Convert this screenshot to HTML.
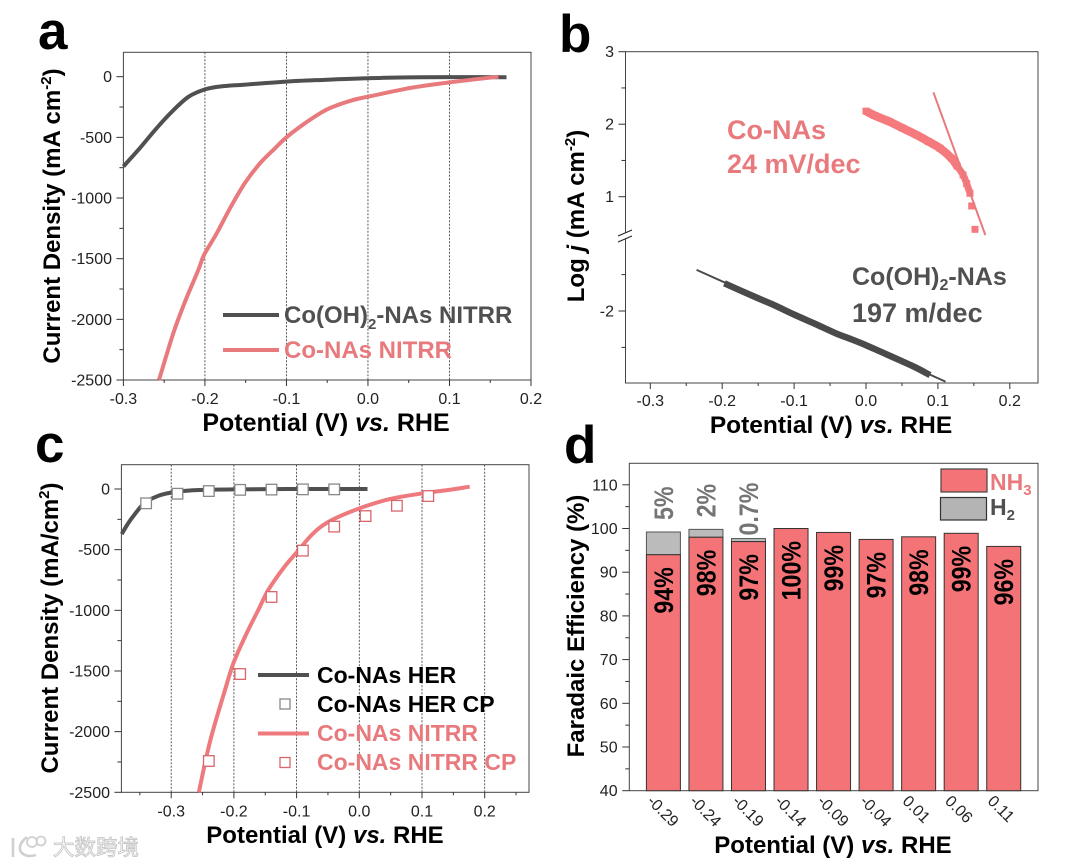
<!DOCTYPE html>
<html lang="en">
<head>
<meta charset="utf-8">
<title>Electrocatalysis figure panels a-d</title>
<style>
html,body{margin:0;padding:0;background:#fff;}
#figure{display:block;width:1080px;height:866px;filter:blur(0.35px);font-family:"Liberation Sans","Noto Sans CJK SC",sans-serif;}
text{font-family:"Liberation Sans","Noto Sans CJK SC",sans-serif;}
.letter{font-size:53px;font-weight:700;fill:#000;}
.title{font-weight:700;fill:#000;}
.grey{fill:#505050;font-weight:700;}
.red{fill:#e87a7d;font-weight:700;}
.blk{fill:#000;font-weight:700;}
.tick{font-size:16px;fill:#222;}
</style>
</head>
<body>
<svg id="figure" xmlns="http://www.w3.org/2000/svg" width="1080" height="866" viewBox="0 0 1080 866">
  <text class="letter" x="38" y="49">a</text>
  <text class="letter" x="559" y="52">b</text>
  <text class="letter" x="35" y="462">c</text>
  <text class="letter" x="564" y="463">d</text>

  <g id="panel-a"></g>
  <g id="panel-b"></g>
  <g id="panel-c"></g>
  <g id="panel-d"></g>

  <!-- panel a text -->
  <text class="title" font-size="25" x="326" y="431" text-anchor="middle">Potential (V) <tspan font-style="italic">vs.</tspan> RHE</text>
  <text class="title" font-size="24" transform="translate(60,216) rotate(-90)" text-anchor="middle">Current Density (mA cm<tspan font-size="15" dy="-9">-2</tspan><tspan dy="9">)</tspan></text>
  <line x1="223" y1="315" x2="279" y2="315" stroke="#505050" stroke-width="4"/>
  <line x1="223" y1="350" x2="279" y2="350" stroke="#e87a7d" stroke-width="4"/>
  <text class="grey" font-size="24" x="284" y="323">Co(OH)<tspan font-size="15" dy="6">2</tspan><tspan dy="-6">-NAs NITRR</tspan></text>
  <text class="red" font-size="24" x="284" y="358">Co-NAs NITRR</text>

  <!-- panel b text -->
  <text class="title" font-size="24.5" x="831" y="433" text-anchor="middle">Potential (V) <tspan font-style="italic">vs.</tspan> RHE</text>
  <text class="title" font-size="24" transform="translate(584,216) rotate(-90)" text-anchor="middle">Log <tspan font-style="italic">j</tspan> (mA cm<tspan font-size="15" dy="-9">-2</tspan><tspan dy="9">)</tspan></text>
  <text class="red" font-size="27" x="727" y="139">Co-NAs</text>
  <text class="red" font-size="27" x="727" y="173">24 mV/dec</text>
  <text class="grey" font-size="25" x="852" y="285">Co(OH)<tspan font-size="16" dy="5">2</tspan><tspan dy="-5">-NAs</tspan></text>
  <text class="grey" font-size="27" x="852" y="322">197 m/dec</text>

  <!-- panel c text -->
  <text class="title" font-size="24" x="325" y="843" text-anchor="middle">Potential (V) <tspan font-style="italic">vs.</tspan> RHE</text>
  <text class="title" font-size="24" transform="translate(58,628) rotate(-90)" text-anchor="middle">Current Density (mA/cm<tspan font-size="15" dy="-9">2</tspan><tspan dy="9">)</tspan></text>
  <line x1="258" y1="675" x2="309" y2="675" stroke="#505050" stroke-width="4"/>
  <rect x="280" y="699" width="10" height="10" fill="#fff" stroke="#888" stroke-width="1.3"/>
  <line x1="258" y1="733.5" x2="309" y2="733.5" stroke="#ee7a7d" stroke-width="4"/>
  <rect x="280" y="757.5" width="10" height="10" fill="#fff" stroke="#d9666b" stroke-width="1.3"/>
  <text class="blk" font-size="23" x="317" y="683">Co-NAs HER</text>
  <text class="blk" font-size="23" x="317" y="712">Co-NAs HER CP</text>
  <text class="red" font-size="23" x="317" y="741">Co-NAs NITRR</text>
  <text class="red" font-size="23" x="317" y="770">Co-NAs NITRR CP</text>

  <!-- panel d text -->
  <text class="title" font-size="24" x="833" y="853" text-anchor="middle">Potential (V) <tspan font-style="italic">vs.</tspan> RHE</text>
  <text class="title" font-size="24" transform="translate(584,626) rotate(-90)" text-anchor="middle">Faradaic Efficiency (%)</text>
  <rect x="941" y="469" width="46" height="23" fill="#f47376" stroke="#444" stroke-width="1.2"/>
  <rect x="940.500" y="497.500" width="46" height="22.500" fill="#b4b4b4" stroke="#333" stroke-width="1.2"/>
  <text class="red" font-size="23" x="990" y="490">NH<tspan font-size="15" dy="5">3</tspan></text>
  <text class="grey" font-size="23" x="990" y="515">H<tspan font-size="15" dy="5">2</tspan></text>

  <!-- watermark -->
  <g>
    <path d="M13 838 L13 857 M27 837 Q17 845 21 852 Q26 858 36 855" fill="none" stroke="#d0d0d0" stroke-width="2.6"/>
    <circle cx="32" cy="842" r="5" fill="none" stroke="#d0d0d0" stroke-width="1.8"/>
    <circle cx="41" cy="841" r="4.500" fill="none" stroke="#d0d0d0" stroke-width="1.8"/>
    <text x="53" y="855" font-size="21.500" fill="#fff" stroke="#c8c8c8" stroke-width="0.9" style="font-family:'Noto Sans CJK SC',sans-serif">大数跨境</text>
  </g>
</svg>
<script>
/* Panel a data */
const aXLabels = ['-0.3', '-0.2', '-0.1', '0.0', '0.1', '0.2'];
const aXMinor = [-0.25, -0.15, -0.05, 0.05, 0.15];
const aYLabels = ['0', '-500', '-1000', '-1500', '-2000', '-2500'];
const aYMinor = [-250, -750, -1250, -1750, -2250];
const aGrid = [-0.2, -0.1, 0, 0.1];
const aBlackX = [-0.3, -0.28, -0.26, -0.24, -0.22, -0.2, -0.18, -0.15, -0.1, -0.05, 0, 0.05, 0.1, 0.17];
const aBlackY = [-740, -590, -430, -285, -165, -105, -80, -65, -40, -25, -12, -6, -3, -5];
const aRedX = [-0.2563, -0.2388, -0.2244, -0.2081, -0.2011, -0.1855, -0.1692, -0.1508, -0.1324, -0.114, -0.1014, -0.0833, -0.0588, -0.0454, -0.02, 0, 0.035, 0.056, 0.1, 0.16];
const aRedY = [-2500, -2115, -1855, -1593, -1470, -1291, -1085, -875, -714, -590, -508, -412, -302, -255, -195, -165, -115, -88, -47, 0];

/* Panel b data */
const bXLabels = ['-0.3', '-0.2', '-0.1', '0.0', '0.1', '0.2'];
const bXMinor = [-0.25, -0.15, -0.05, 0.05, 0.15];
const bYLabels = ['3', '2', '1', '-2'];
const bYMinor = [2.5, 1.5, -1.5, -2.5];
const bRedX = [0, 0.012, 0.033, 0.05, 0.0705, 0.087, 0.103, 0.119, 0.127, 0.135, 0.14, 0.1446, 0.147, 0.1516];
const bRedY = [2.18, 2.12, 2.034, 1.95, 1.851, 1.76, 1.668, 1.53, 1.42, 1.3, 1.18, 1.047, 0.872, 0.55];
const bRedFitX = [0.0937, 0.166];
const bRedFitY = [2.44, 0.47];
const bBlackX = [-0.197, -0.156, -0.13, -0.0986, -0.07, -0.041, -0.02, 0, 0.025, 0.05, 0.07, 0.089];
const bBlackY = [-1.62, -1.8, -1.91, -2.055, -2.18, -2.31, -2.39, -2.47, -2.58, -2.69, -2.78, -2.88];
const bBlackFitX = [-0.2356, 0.1106];
const bBlackFitY = [-1.436, -2.97];

/* Panel c data */
const cXLabels = ['-0.3', '-0.2', '-0.1', '0.0', '0.1', '0.2'];
const cXMinor = [-0.35, -0.25, -0.15, -0.05, 0.05, 0.15, 0.25];
const cYLabels = ['0', '-500', '-1000', '-1500', '-2000', '-2500'];
const cYMinor = [-250, -750, -1250, -1750, -2250];
const cGrid = [-0.3, -0.2, -0.1, 0, 0.1, 0.2];
const cBlackX = [-0.379, -0.365, -0.343, -0.32, -0.3, -0.265, -0.2, -0.1, 0.013];
const cBlackY = [-372, -256, -118, -55, -30, -11, -3, 0, 0];
const cRedX = [-0.256, -0.238, -0.2142, -0.1998, -0.1796, -0.1611, -0.1451, -0.1212, -0.0989, -0.0734, -0.0467, 0, 0.0485, 0.1, 0.142, 0.176];
const cRedY = [-2500, -2080, -1657, -1423, -1189, -997, -832, -654, -517, -365, -264, -160, -83, -36, -8, 19];
const cBlackCpX = [-0.34, -0.29, -0.24, -0.19, -0.14, -0.09, -0.04];
const cBlackCpY = [-118, -39, -17, -7, -5, -3, -3];
const cRedCpX = [-0.24, -0.19, -0.14, -0.09, -0.04, 0.01, 0.06, 0.11];
const cRedCpY = [-2242, -1525, -890, -508, -310, -223, -138, -58];

/* Panel d data */
const dCategories = ['-0.29', '-0.24', '-0.19', '-0.14', '-0.09', '-0.04', '0.01', '0.06', '0.11'];
const dNh3 = [94, 98, 97, 100, 99.1, 97.5, 98.1, 98.9, 95.9];
const dH2 = [5.2, 1.8, 0.7, 0, 0, 0, 0, 0, 0];
const dNh3Labels = ['94%', '98%', '97%', '100%', '99%', '97%', '98%', '99%', '96%'];
const dH2Labels = ['5%', '2%', '0.7%', '', '', '', '', '', ''];
const dYLabels = ['40', '50', '60', '70', '80', '90', '100', '110'];
const dYMinor = [45, 55, 65, 75, 85, 95, 105];

const NS = 'http://www.w3.org/2000/svg';
function make(parent, tag, attrs, content) {
  const el = document.createElementNS(NS, tag);
  for (const k in attrs) el.setAttribute(k, attrs[k]);
  if (content !== undefined) el.textContent = content;
  parent.appendChild(el);
  return el;
}
/* Smooth path through the data points (Catmull-Rom to Bezier) */
function pathFrom(xs, ys, xf, yf) {
  const pts = xs.map((x, i) => [xf(x), yf(ys[i])]);
  let d = 'M' + pts[0][0].toFixed(1) + ' ' + pts[0][1].toFixed(1);
  for (let i = 0; i < pts.length - 1; i++) {
    const p0 = pts[Math.max(i - 1, 0)];
    const p1 = pts[i];
    const p2 = pts[i + 1];
    const p3 = pts[Math.min(i + 2, pts.length - 1)];
    const c1x = p1[0] + (p2[0] - p0[0]) / 6;
    const c1y = p1[1] + (p2[1] - p0[1]) / 6;
    const c2x = p2[0] - (p3[0] - p1[0]) / 6;
    const c2y = p2[1] - (p3[1] - p1[1]) / 6;
    d += ' C' + c1x.toFixed(1) + ' ' + c1y.toFixed(1) + ' ' + c2x.toFixed(1) + ' ' + c2y.toFixed(1) + ' ' + p2[0].toFixed(1) + ' ' + p2[1].toFixed(1);
  }
  return d;
}
const AXIS = '#333';

/* Axis functions */
const xA = v => 123.4 + (v + 0.3) / 0.5 * 407.6;
const yA = v => 76.7 + (-v) / 2500 * 303.3;
const xB = v => 866 + v / 0.1 * 71.9;
const yB = v => v > -0.5 ? 51.7 + (3 - v) * 72.5 : 311 - (v + 2) * 72.8;
const xC = v => 359.3 + v / 0.1 * 62.7;
const yC = v => 489 + (-v) / 500 * 60.66;
const yD = v => 790.7 - (v - 40) * 4.37;
const xD = i => 663.4 + i * 42.54;

function frame(g, name, x, y, w, h) {
  const r = make(g, 'rect', { x: x, y: y, width: w, height: h, fill: 'none', stroke: '#444', 'stroke-width': 1 });
  
  
}
function xTicks(g, name, labels, minor, xf, yBase, labelY) {
  labels.forEach(l => {
    const x = xf(Number(l));
    const t = make(g, 'line', { x1: x, y1: yBase, x2: x, y2: yBase + 6, stroke: AXIS, 'stroke-width': 1 });
    
    
    const s = make(g, 'text', { x: x, y: labelY, 'text-anchor': 'middle', class: 'tick' }, l);
    
    
  });
  minor.forEach(v => {
    const x = xf(v);
    const t = make(g, 'line', { x1: x, y1: yBase, x2: x, y2: yBase + 3, stroke: AXIS, 'stroke-width': 1 });
    
    
  });
}
function yTicks(g, name, labels, minor, yf, xBase, labelX) {
  labels.forEach(l => {
    const y = yf(Number(l));
    const t = make(g, 'line', { x1: xBase - 7, y1: y, x2: xBase, y2: y, stroke: AXIS, 'stroke-width': 1 });
    
    
    const s = make(g, 'text', { x: labelX, y: y + 5.5, 'text-anchor': 'end', class: 'tick' }, l);
    
    
  });
  minor.forEach(v => {
    const y = yf(v);
    const t = make(g, 'line', { x1: xBase - 4, y1: y, x2: xBase, y2: y, stroke: AXIS, 'stroke-width': 1 });
    
    
  });
}
function grid(g, name, values, xf, y1, y2) {
  values.forEach(v => {
    const l = make(g, 'line', { x1: xf(v), y1: y1, x2: xf(v), y2: y2, stroke: '#333', 'stroke-width': 0.8, 'stroke-dasharray': '2 1.5' });
    
    
  });
}

/* Panel a */
const pa = document.getElementById('panel-a');
grid(pa, 'panel-a', aGrid, xA, 52.3, 380);
frame(pa, 'panel-a', 123.4, 52.3, 407.6, 327.7);
xTicks(pa, 'panel-a', aXLabels, aXMinor, xA, 380, 404);
yTicks(pa, 'panel-a', aYLabels, aYMinor, yA, 123.4, 112);
const aBlack = make(pa, 'path', { d: pathFrom(aBlackX, aBlackY, xA, yA), fill: 'none', stroke: '#505050', 'stroke-width': 4 });


const aRed = make(pa, 'path', { d: pathFrom(aRedX, aRedY, xA, yA), fill: 'none', stroke: '#e87a7d', 'stroke-width': 4 });



/* Panel b */
const pb = document.getElementById('panel-b');
frame(pb, 'panel-b', 625.5, 51.7, 412.5, 331.3);
xTicks(pb, 'panel-b', bXLabels, bXMinor, xB, 383, 406);
yTicks(pb, 'panel-b', bYLabels, bYMinor, yB, 625.5, 614);
const bGap = make(pb, 'rect', { x: 622, y: 233, width: 7, height: 6, fill: '#fff' });


const bSlash1 = make(pb, 'line', { x1: 618, y1: 236, x2: 632, y2: 230, stroke: '#222', 'stroke-width': 1 });


const bSlash2 = make(pb, 'line', { x1: 618, y1: 242, x2: 632, y2: 236, stroke: '#222', 'stroke-width': 1 });


const bRedBand = make(pb, 'path', { d: pathFrom(bRedX.slice(0, 9), bRedY.slice(0, 9), xB, yB), fill: 'none', stroke: '#f57a7d', 'stroke-width': 8.5 });


const bRedTail = make(pb, 'path', { d: pathFrom(bRedX.slice(8, 12), bRedY.slice(8, 12), xB, yB), fill: 'none', stroke: '#f57a7d', 'stroke-width': 7 });


bRedX.forEach((x, i) => {
  const m = make(pb, 'rect', { x: xB(x) - 3.5, y: yB(bRedY[i]) - 3.5, width: 7, height: 7, fill: '#f57a7d' });
  
  
});
const bRedFit = make(pb, 'path', { d: pathFrom(bRedFitX, bRedFitY, xB, yB), fill: 'none', stroke: '#e87a7d', 'stroke-width': 2 });


const bBlackFit = make(pb, 'path', { d: pathFrom(bBlackFitX, bBlackFitY, xB, yB), fill: 'none', stroke: '#4a4a4a', 'stroke-width': 2 });


const bBlackBand = make(pb, 'path', { d: pathFrom(bBlackX, bBlackY, xB, yB), fill: 'none', stroke: '#4a4a4a', 'stroke-width': 6.5 });



/* Panel c */
const pc = document.getElementById('panel-c');
grid(pc, 'panel-c', cGrid, xC, 464.7, 792.3);
frame(pc, 'panel-c', 121.4, 464.7, 407.6, 327.6);
xTicks(pc, 'panel-c', cXLabels, cXMinor, xC, 792.3, 816.7);
yTicks(pc, 'panel-c', cYLabels, cYMinor, yC, 121.4, 110);
const cBlack = make(pc, 'path', { d: pathFrom(cBlackX, cBlackY, xC, yC), fill: 'none', stroke: '#505050', 'stroke-width': 4 });


const cRed = make(pc, 'path', { d: pathFrom(cRedX, cRedY, xC, yC), fill: 'none', stroke: '#ee7a7d', 'stroke-width': 4 });


cBlackCpX.forEach((x, i) => {
  const m = make(pc, 'rect', { x: xC(x) - 5.3, y: yC(cBlackCpY[i]) - 5.3, width: 10.6, height: 10.6, fill: '#fff', stroke: '#888', 'stroke-width': 1.3 });
  
  
});
cRedCpX.forEach((x, i) => {
  const m = make(pc, 'rect', { x: xC(x) - 5.3, y: yC(cRedCpY[i]) - 5.3, width: 10.6, height: 10.6, fill: '#fff', stroke: '#d9666b', 'stroke-width': 1.3 });
  
  
});

/* Panel d */
const pd = document.getElementById('panel-d');
frame(pd, 'panel-d', 629.3, 463.3, 408.7, 327.4);
yTicks(pd, 'panel-d', dYLabels, dYMinor, yD, 629.3, 617.6);
dCategories.forEach((c, i) => {
  const x = xD(i);
  if (dH2[i] > 0) {
    const top = make(pd, 'rect', { x: x - 17, y: yD(dNh3[i] + dH2[i]), width: 34, height: yD(dNh3[i]) - yD(dNh3[i] + dH2[i]), fill: '#bbb', stroke: '#555', 'stroke-width': 1 });
    
    
    const gap = i === 2 ? 3 : 12;
    const hl = make(pd, 'text', { transform: 'translate(' + (x + 9.5) + ',' + (yD(dNh3[i] + dH2[i]) - gap) + ') rotate(-90) scale(0.86,1)', 'font-size': 27, 'font-weight': 700, fill: '#757575' }, dH2Labels[i]);
    
    
  }
  const bar = make(pd, 'rect', { x: x - 17, y: yD(dNh3[i]), width: 34, height: 790.7 - yD(dNh3[i]), fill: '#f47376', stroke: '#333', 'stroke-width': 1 });
  
  
  const vl = make(pd, 'text', { transform: 'translate(' + (x + 9.5) + ',' + (yD(dNh3[i]) + 12.5) + ') rotate(-90) scale(0.86,1)', 'font-size': 27, 'font-weight': 700, fill: '#000', 'text-anchor': 'end' }, dNh3Labels[i]);
  
  
  const cl = make(pd, 'text', { transform: 'translate(' + (x - 17) + ',802) rotate(45)', class: 'tick' }, c);
  
  
});
</script>
</body>
</html>
